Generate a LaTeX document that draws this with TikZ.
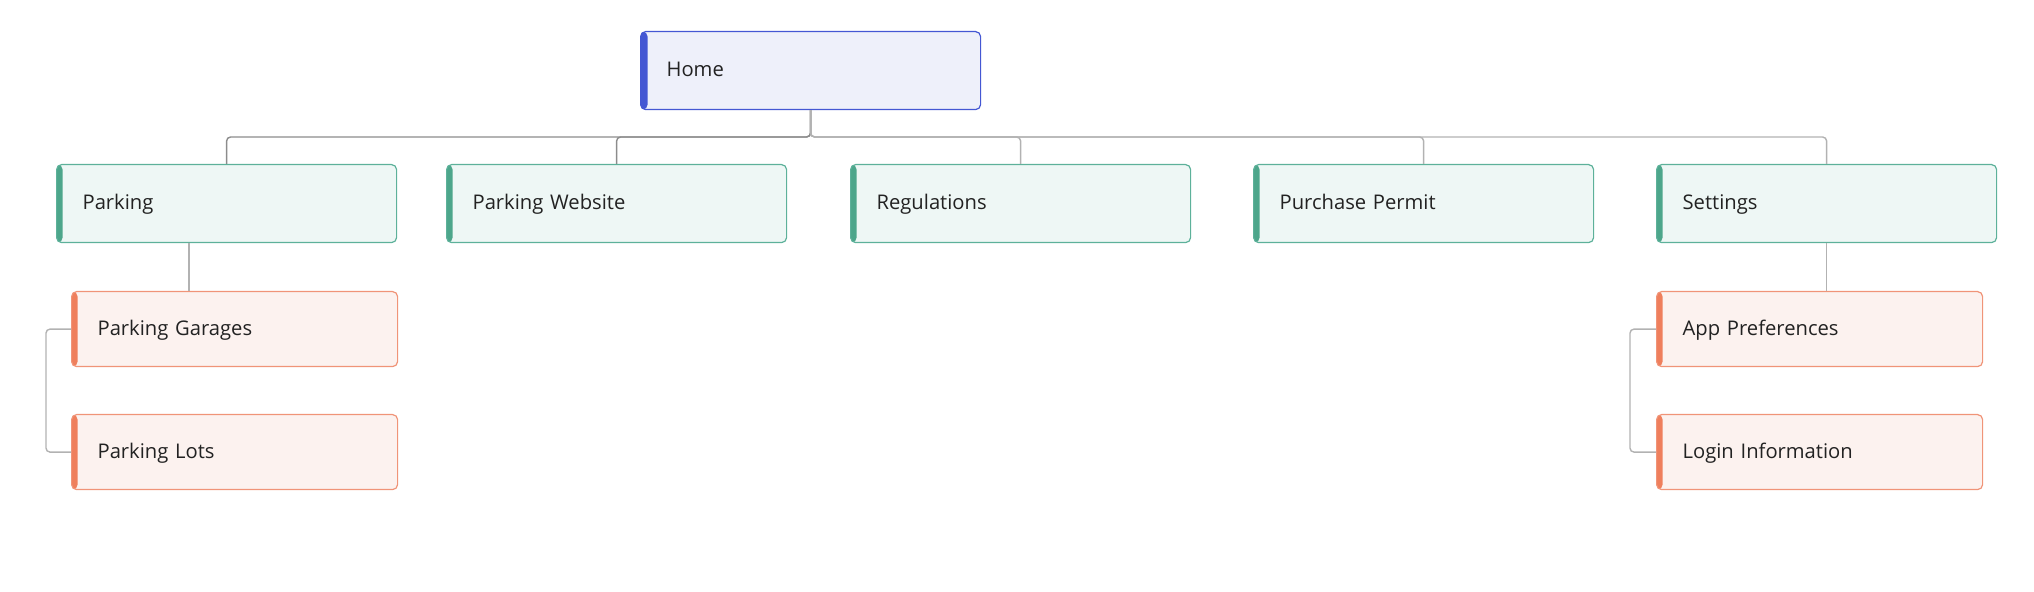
\documentclass[tikz,border=0pt]{standalone}
\usepackage{fontspec}
\setmainfont{Open Sans}
\usepackage{xcolor}
\usepackage{tikz}
\definecolor{homeblue}{HTML}{4457D3}
\definecolor{homefill}{HTML}{EEF0FA}
\definecolor{secgreen}{HTML}{4DA68B}
\definecolor{secline}{HTML}{5DB19A}
\definecolor{secfill}{HTML}{EEF7F5}
\definecolor{suborange}{HTML}{EF7F5C}
\definecolor{subline}{HTML}{F09478}
\definecolor{subfill}{HTML}{FCF2EF}
\definecolor{txt}{HTML}{222222}

\begin{document}
\begin{tikzpicture}[x=0.5pt,y=-0.5pt,font=\fontsize{10.1}{12}\selectfont]
    \tikzstyle{box}=[rectangle,rounded corners=2.5pt,anchor=north west,align=left,text=txt,inner xsep=13pt,inner ysep=0pt,line width=0.6pt,execute at begin node={\rule[-2.85pt]{0pt}{12pt}}]
    \tikzstyle{home box}=[box,draw=homeblue,fill=homefill,text width=144pt,minimum height=39pt,
        path picture={\fill[homeblue] (path picture bounding box.north west) rectangle ([xshift=3.5pt]path picture bounding box.south west);}]
    \tikzstyle{section box}=[box,draw=secline,fill=secfill,text width=144pt,minimum height=39pt,
        path picture={\fill[secgreen] (path picture bounding box.north west) rectangle ([xshift=3pt]path picture bounding box.south west);}]
    \tikzstyle{sub box}=[box,draw=subline,fill=subfill,text width=137pt,minimum height=37.5pt,
        path picture={\fill[suborange] (path picture bounding box.north west) rectangle ([xshift=3pt]path picture bounding box.south west);}]
    \tikzstyle{link}=[draw=black!30,line width=0.7pt,rounded corners=2pt]
    \tikzstyle{dark link}=[link,draw=black!45]

    \useasboundingbox (0,0) rectangle (2034,592);

    % Draw the root
    \node[home box] (H) at (640,31) {Home};

    % Draw the first level
    \foreach \name / \x / \lbl in {1/56/Parking,2/446/Parking Website,3/850/Regulations,4/1253/Purchase Permit,5/1656/Settings}
        \node[section box] (S-\name) at (\x,164) {\lbl};

    % Draw the second level
    \node[sub box] (P-1) at (71,291) {Parking Garages};
    \node[sub box] (P-2) at (71,414) {Parking Lots};
    \node[sub box] (T-1) at (1656,291) {App Preferences};
    \node[sub box] (T-2) at (1656,414) {Login Information};

    % Connect the root with every node in the first level
    \coordinate (bus) at (0,137);
    \foreach \name in {1,2}
        \draw[dark link] (H.south) -- (H.south |- bus) -| (S-\name.north);
    \foreach \name in {3,4,5}
        \draw[link] (H.south) -- (H.south |- bus) -| (S-\name.north);

    % Connect the second level
    \coordinate (pk) at ([xshift=-18.75pt]S-1.south);
    \draw[link] (pk) -- (pk |- P-1.north);
    \draw[link] (S-5.south) -- (S-5.south |- T-1.north);
    \draw[link] (P-1.west) -- ++(-25,0) |- (P-2.west);
    \draw[link] (T-1.west) -- ++(-26,0) |- (T-2.west);

\end{tikzpicture}
\end{document}
